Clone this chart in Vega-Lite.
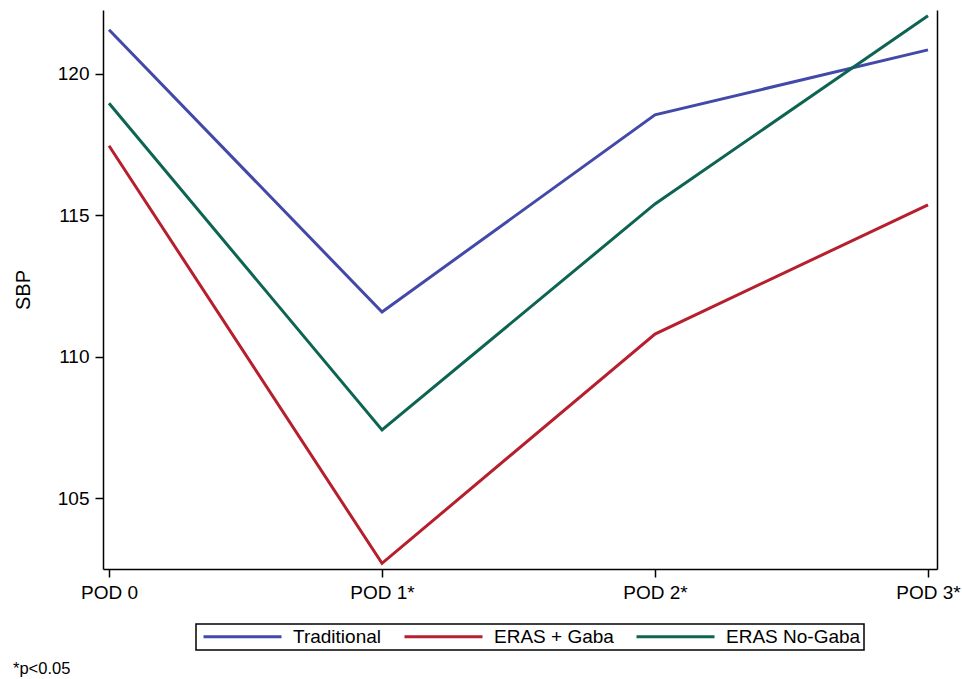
{
  "$schema": "https://vega.github.io/schema/vega-lite/v6.json",
  "width": 834,
  "height": 559,
  "autosize": "none",
  "padding": {"left": 103, "top": 10, "right": 25, "bottom": 110},
  "background": "white",
  "title": {
    "text": "*p<0.05",
    "orient": "bottom",
    "anchor": "start",
    "frame": "group",
    "dx": -90,
    "offset": 10,
    "fontSize": 16.5,
    "fontWeight": "normal",
    "font": "Liberation Sans",
    "color": "black"
  },
  "config": {
    "font": "Liberation Sans",
    "view": {"stroke": null},
    "axis": {
      "domainColor": "black",
      "domainWidth": 1.5,
      "tickColor": "black",
      "tickWidth": 1.5,
      "tickSize": 8,
      "labelFontSize": 19,
      "labelColor": "black",
      "titleFontSize": 19,
      "titleFontWeight": "normal",
      "titleColor": "black",
      "grid": false
    },
    "legend": {
      "orient": "none",
      "legendX": 93,
      "legendY": 614,
      "direction": "horizontal",
      "strokeColor": "black",
      "strokeWidth": 1.5,
      "padding": 3,
      "symbolType": "M-6,0H6",
      "symbolSize": 169,
      "symbolStrokeWidth": 3,
      "symbolOffset": 34,
      "labelOffset": 41,
      "labelFontSize": 19,
      "labelColor": "black",
      "columnPadding": 16,
      "title": null
    }
  },
  "data": {
    "values": [
      {"pod": 0, "group": "Traditional", "sbp": 121.56},
      {"pod": 1, "group": "Traditional", "sbp": 111.58},
      {"pod": 2, "group": "Traditional", "sbp": 118.55},
      {"pod": 3, "group": "Traditional", "sbp": 120.85},
      {"pod": 0, "group": "ERAS + Gaba", "sbp": 117.46},
      {"pod": 1, "group": "ERAS + Gaba", "sbp": 102.69},
      {"pod": 2, "group": "ERAS + Gaba", "sbp": 110.8},
      {"pod": 3, "group": "ERAS + Gaba", "sbp": 115.37},
      {"pod": 0, "group": "ERAS No-Gaba", "sbp": 118.96},
      {"pod": 1, "group": "ERAS No-Gaba", "sbp": 107.41},
      {"pod": 2, "group": "ERAS No-Gaba", "sbp": 115.4},
      {"pod": 3, "group": "ERAS No-Gaba", "sbp": 122.06}
    ]
  },
  "layer": [
    {
      "mark": {"type": "line", "strokeWidth": 3},
      "encoding": {
        "x": {
          "field": "pod",
          "type": "quantitative",
          "scale": {"domain": [-0.022, 3.033], "nice": false, "zero": false},
          "axis": {
            "title": null,
            "values": [0, 1, 2, 3],
            "labelExpr": "['POD 0','POD 1*','POD 2*','POD 3*'][datum.value]",
            "labelPadding": 6,
            "labelFontSize": 19,
            "labelFlush": false,
            "labelOverlap": false
          }
        },
        "y": {
          "field": "sbp",
          "type": "quantitative",
          "scale": {"domain": [102.49, 122.26], "nice": false, "zero": false},
          "axis": {
            "title": "SBP",
            "titleFontSize": 20,
            "titleFont": "Liberation Sans",
            "titleFontWeight": "normal",
            "labelFontSize": 19,
            "values": [105, 110, 115, 120],
            "labelPadding": 6,
            "titlePadding": 24
          }
        },
        "color": {
          "field": "group",
          "type": "nominal",
          "sort": ["Traditional", "ERAS + Gaba", "ERAS No-Gaba"],
          "scale": {
            "domain": ["Traditional", "ERAS + Gaba", "ERAS No-Gaba"],
            "range": ["#4249a8", "#b51f2e", "#0c6451"]
          },
          "legend": {"title": null}
        }
      }
    },
    {
      "mark": {"type": "line", "opacity": 0},
      "encoding": {
        "x": {"field": "pod", "type": "quantitative", "axis": null},
        "y": {
          "field": "sbp",
          "type": "quantitative",
          "scale": {"domain": [102.49, 122.26], "nice": false, "zero": false},
          "axis": {
            "orient": "right",
            "title": null,
            "labels": false,
            "ticks": false
          }
        },
        "detail": {"field": "group", "type": "nominal"}
      }
    }
  ],
  "resolve": {"axis": {"y": "independent", "x": "independent"}}
}
